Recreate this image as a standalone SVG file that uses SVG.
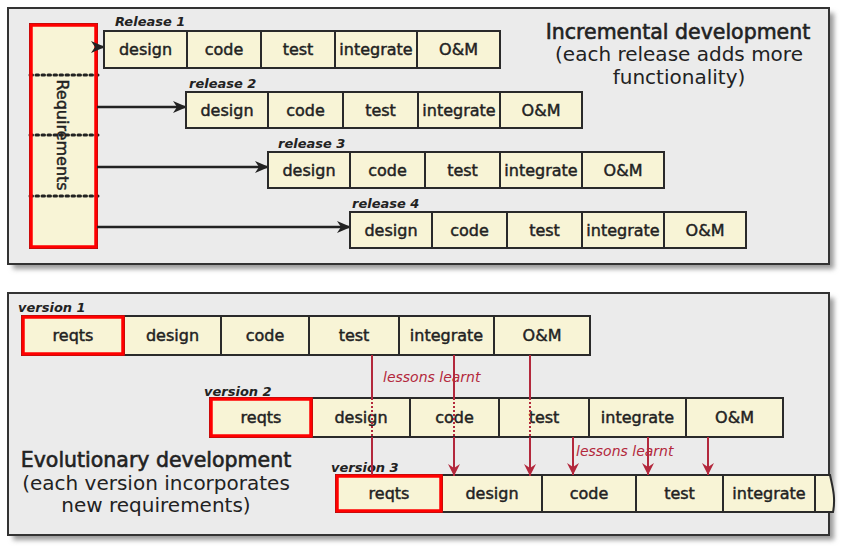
<svg xmlns="http://www.w3.org/2000/svg" width="842" height="549" viewBox="0 0 842 549">
<style>
text{font-family:"DejaVu Sans","Liberation Sans",sans-serif;fill:#222}
.panel{fill:#ebebeb;stroke:#333;stroke-width:2}
.shadow{fill:#9a9a9a;filter:url(#blur)}
.cell{fill:#f8f4d6;stroke:#2a2a2a;stroke-width:2}
.req{fill:none;stroke:#ff0000;stroke-width:3.5}
.ct{font-size:16px;text-anchor:middle;stroke:#222;stroke-width:0.45}
.lbl{font-size:13px;font-style:italic;font-weight:bold}
.title{font-size:20.5px;text-anchor:middle;stroke:#222;stroke-width:0.6}
.sub{font-size:20px;text-anchor:middle}
.arr{stroke:#222;stroke-width:2.5;fill:none}
.red{stroke:#b3283c;stroke-width:2;fill:none}
.reddot{stroke:#b3283c;stroke-width:2;fill:none;stroke-dasharray:2 2}
.ll{font-size:14px;font-style:italic;fill:#b3283c}
.dots{stroke:#222;stroke-width:3;stroke-dasharray:2.5 3.5;stroke-linecap:round}
</style>
<defs>
<filter id="blur" x="-5%" y="-5%" width="110%" height="110%"><feGaussianBlur stdDeviation="2.5"/></filter>
<marker id="ab" markerWidth="14" markerHeight="12" refX="13" refY="6" orient="auto" markerUnits="userSpaceOnUse"><path d="M0,0 L14,6 L0,12 L4,6 Z" fill="#222"/></marker>
<marker id="ar" markerWidth="12" markerHeight="12" refX="6" refY="12" orient="0" markerUnits="userSpaceOnUse"><path d="M0,0 L6,12 L12,0 L6,4 Z" fill="#b3283c"/></marker>
</defs>

<!-- panels -->
<rect class="shadow" x="13" y="13" width="821" height="256"/>
<rect class="panel" x="8" y="8" width="821" height="256"/>
<rect class="shadow" x="13" y="298" width="821" height="242"/>
<rect class="panel" x="8" y="293" width="821" height="242"/>

<!-- Incremental title -->
<g id="incTitle">
<text class="title" x="678" y="39">Incremental development</text>
<text class="sub" x="679" y="61">(each release adds more</text>
<text class="sub" x="679" y="84">functionality)</text>
</g>

<!-- Requirements -->
<g id="requirements">
<rect x="30" y="24" width="67" height="224" fill="#f8f4d6" stroke="#2a2a2a" stroke-width="2"/>
<line class="dots" x1="30" y1="75" x2="98" y2="75"/>
<line class="dots" x1="30" y1="135" x2="98" y2="135"/>
<line class="dots" x1="30" y1="196" x2="98" y2="196"/>
<rect class="req" x="31" y="25" width="65" height="222"/>
<text transform="translate(57,135) rotate(90)" font-size="16" text-anchor="middle" stroke="#222" stroke-width="0.45">Requirements</text>
</g>

<!-- connectors (top) -->
<g id="connectors">
<line class="arr" x1="97" y1="47" x2="104" y2="47" marker-end="url(#ab)"/>
<line class="arr" x1="97" y1="107" x2="186" y2="107" marker-end="url(#ab)"/>
<line class="arr" x1="97" y1="167" x2="268" y2="167" marker-end="url(#ab)"/>
<line class="arr" x1="97" y1="227" x2="350" y2="227" marker-end="url(#ab)"/>
</g>

<!-- releases -->
<g id="release1">
<text class="lbl" x="115" y="26">Release 1</text>
<rect class="cell" x="104" y="31" width="83" height="37"/><text class="ct" x="145.5" y="55">design</text>
<rect class="cell" x="187" y="31" width="74" height="37"/><text class="ct" x="224" y="55">code</text>
<rect class="cell" x="261" y="31" width="74" height="37"/><text class="ct" x="298" y="55">test</text>
<rect class="cell" x="335" y="31" width="82" height="37"/><text class="ct" x="376" y="55">integrate</text>
<rect class="cell" x="417" y="31" width="83" height="37"/><text class="ct" x="458.5" y="55">O&amp;M</text>
</g>
<g id="release2">
<text class="lbl" x="189" y="88">release 2</text>
<rect class="cell" x="186" y="92" width="82" height="36"/><text class="ct" x="227" y="116">design</text>
<rect class="cell" x="268" y="92" width="75" height="36"/><text class="ct" x="305.5" y="116">code</text>
<rect class="cell" x="343" y="92" width="75" height="36"/><text class="ct" x="380.5" y="116">test</text>
<rect class="cell" x="418" y="92" width="82" height="36"/><text class="ct" x="459" y="116">integrate</text>
<rect class="cell" x="500" y="92" width="82" height="36"/><text class="ct" x="541" y="116">O&amp;M</text>
</g>
<g id="release3">
<text class="lbl" x="278" y="148">release 3</text>
<rect class="cell" x="268" y="152" width="82" height="36"/><text class="ct" x="309" y="176">design</text>
<rect class="cell" x="350" y="152" width="75" height="36"/><text class="ct" x="387.5" y="176">code</text>
<rect class="cell" x="425" y="152" width="75" height="36"/><text class="ct" x="462.5" y="176">test</text>
<rect class="cell" x="500" y="152" width="82" height="36"/><text class="ct" x="541" y="176">integrate</text>
<rect class="cell" x="582" y="152" width="82" height="36"/><text class="ct" x="623" y="176">O&amp;M</text>
</g>
<g id="release4">
<text class="lbl" x="352" y="208">release 4</text>
<rect class="cell" x="350" y="212" width="82" height="36"/><text class="ct" x="391" y="236">design</text>
<rect class="cell" x="432" y="212" width="75" height="36"/><text class="ct" x="469.5" y="236">code</text>
<rect class="cell" x="507" y="212" width="75" height="36"/><text class="ct" x="544.5" y="236">test</text>
<rect class="cell" x="582" y="212" width="82" height="36"/><text class="ct" x="623" y="236">integrate</text>
<rect class="cell" x="664" y="212" width="82" height="36"/><text class="ct" x="705" y="236">O&amp;M</text>
</g>

<!-- Evolutionary title -->
<g id="evoTitle">
<text class="title" x="156" y="467">Evolutionary development</text>
<text class="sub" x="156" y="490">(each version incorporates</text>
<text class="sub" x="156" y="512">new requirements)</text>
</g>

<!-- versions -->
<g id="version1">
<text class="lbl" x="18" y="312">version 1</text>
<rect class="cell" x="22" y="316" width="102" height="39"/><text class="ct" x="73" y="341">reqts</text>
<rect class="cell" x="124" y="316" width="97" height="39"/><text class="ct" x="172.5" y="341">design</text>
<rect class="cell" x="221" y="316" width="88" height="39"/><text class="ct" x="265" y="341">code</text>
<rect class="cell" x="309" y="316" width="90" height="39"/><text class="ct" x="354" y="341">test</text>
<rect class="cell" x="399" y="316" width="95" height="39"/><text class="ct" x="446.5" y="341">integrate</text>
<rect class="cell" x="494" y="316" width="96" height="39"/><text class="ct" x="542" y="341">O&amp;M</text>
<rect class="req" x="23" y="317" width="100" height="37"/>
</g>
<g id="version2">
<text class="lbl" x="204" y="396">version 2</text>
<rect class="cell" x="210" y="398" width="102" height="39"/><text class="ct" x="261" y="423">reqts</text>
<rect class="cell" x="312" y="398" width="98" height="39"/><text class="ct" x="361" y="423">design</text>
<rect class="cell" x="410" y="398" width="89" height="39"/><text class="ct" x="454.5" y="423">code</text>
<rect class="cell" x="499" y="398" width="90" height="39"/><text class="ct" x="544" y="423">test</text>
<rect class="cell" x="589" y="398" width="97" height="39"/><text class="ct" x="637.5" y="423">integrate</text>
<rect class="cell" x="686" y="398" width="97" height="39"/><text class="ct" x="734.5" y="423">O&amp;M</text>
<rect class="req" x="211" y="399" width="100" height="37"/>
</g>
<g id="version3">
<text class="lbl" x="331" y="472">version 3</text>
<rect class="cell" x="336" y="475" width="106" height="37"/><text class="ct" x="389" y="499">reqts</text>
<rect class="cell" x="442" y="475" width="100" height="37"/><text class="ct" x="492" y="499">design</text>
<rect class="cell" x="542" y="475" width="94" height="37"/><text class="ct" x="589" y="499">code</text>
<rect class="cell" x="636" y="475" width="87" height="37"/><text class="ct" x="679.5" y="499">test</text>
<rect class="cell" x="723" y="475" width="92" height="37"/><text class="ct" x="769" y="499">integrate</text>
<path class="cell" d="M815,475 H830 C832,485 836,497 833,512 H815 Z"/>
<rect class="req" x="337" y="476" width="104" height="35"/>
</g>

<!-- lessons learnt connectors -->
<g id="lessons">
<text class="ll" x="383" y="382">lessons learnt</text>
<text class="ll" x="576" y="456">lessons learnt</text>
<path class="red" d="M372,355 V398 M372,437 V475"/>
<path class="reddot" d="M372,398 V437"/>
<path class="red" d="M454,355 V398 M454,437 V476" marker-end="url(#ar)"/>
<path class="reddot" d="M454,398 V437"/>
<path class="red" d="M530,355 V398 M530,437 V476" marker-end="url(#ar)"/>
<path class="reddot" d="M530,398 V437"/>
<path class="red" d="M573,437 V475" marker-end="url(#ar)"/>
<path class="red" d="M648,437 V475" marker-end="url(#ar)"/>
<path class="red" d="M708,437 V475" marker-end="url(#ar)"/>
</g>
</svg>
